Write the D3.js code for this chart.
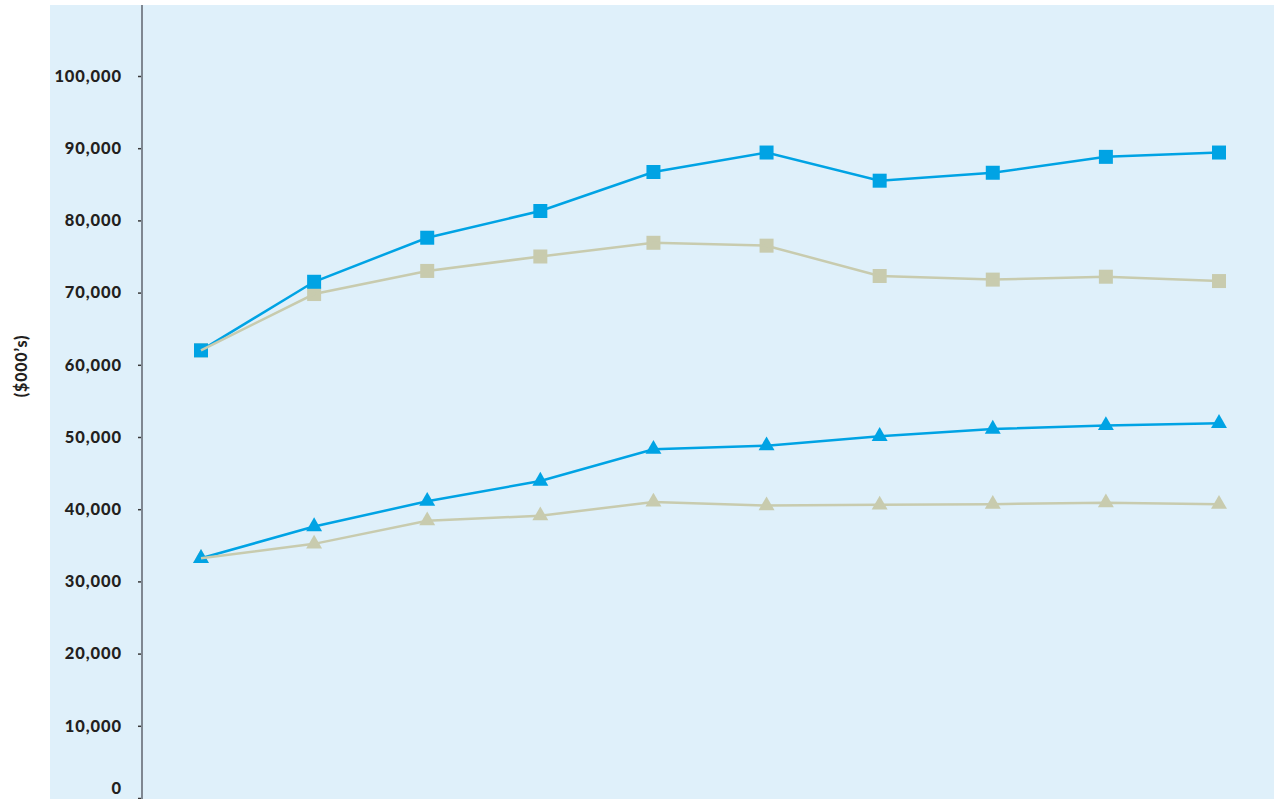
<!DOCTYPE html>
<html>
<head>
<meta charset="utf-8">
<script src="https://cdn.jsdelivr.net/npm/d3@7"></script>
<style>
  body { margin: 0; background: #fff; }
  text { font-family: Lato, "DejaVu Sans", sans-serif; font-weight: 900; fill: #231f20; }
</style>
</head>
<body>
<div id="chart"></div>
<script>
// Data ($000's)
const periods = ["1", "2", "3", "4", "5", "6", "7", "8", "9", "10"];
const blueSquares = [62000, 71500, 77600, 81300, 86700, 89400, 85500, 86600, 88800, 89400];
const beigeSquares = [62000, 69800, 73000, 75000, 76900, 76500, 72300, 71800, 72200, 71600];
const blueTriangles = [33200, 37600, 41100, 43900, 48300, 48800, 50100, 51100, 51600, 51900];
const beigeTriangles = [33200, 35200, 38400, 39100, 41000, 40500, 40600, 40700, 40900, 40700];
const yTicks = [0, 10000, 20000, 30000, 40000, 50000, 60000, 70000, 80000, 90000, 100000];

const width = 1274, height = 799;
const blue = "#00a3e4", beige = "#c8cbae";

const svg = d3.select("#chart").append("svg")
  .attr("width", width)
  .attr("height", height);

// background panel
svg.append("rect")
  .attr("x", 50).attr("y", 5)
  .attr("width", width - 50).attr("height", height - 5)
  .attr("fill", "#dff0fa");

const x = d3.scalePoint().domain(periods).range([201, 1219]);
const y = d3.scaleLinear().domain([0, 100000]).range([798, 76]);

// y axis
const yAxis = svg.append("g")
  .attr("transform", "translate(142,0)")
  .call(d3.axisLeft(y).tickValues(yTicks).tickSize(4).tickPadding(16)
    .tickFormat(d3.format(",")));
yAxis.select(".domain").remove();
yAxis.selectAll(".tick line").attr("stroke", "#3a3a3a").attr("stroke-width", 1.5);
yAxis.selectAll(".tick text")
  .style("font-size", "16.5px")
  .style("letter-spacing", "0.9px")
  .attr("fill", "#231f20");
// the 0 label sits at the bottom edge, lift it so it stays inside
yAxis.selectAll(".tick text").filter(d => d === 0).attr("y", -10);

svg.append("line")
  .attr("x1", 142).attr("x2", 142)
  .attr("y1", 5).attr("y2", height)
  .attr("stroke", "#7f8791").attr("stroke-width", 2);

// axis title
svg.append("text")
  .attr("transform", "translate(27,366) rotate(-90)")
  .attr("text-anchor", "middle")
  .style("font-size", "16px")
  .style("letter-spacing", "0.8px")
  .text("($000’s)");

const line = d3.line()
  .x((d, i) => x(periods[i]))
  .y(d => y(d));

function drawLine(values, color) {
  svg.append("path")
    .datum(values)
    .attr("fill", "none")
    .attr("stroke", color)
    .attr("stroke-width", 2.5)
    .attr("d", line);
}

function drawMarkers(values, color, type, size) {
  const sym = d3.symbol().type(type).size(size);
  svg.append("g").selectAll("path")
    .data(values)
    .enter().append("path")
    .attr("transform", (d, i) => "translate(" + x(periods[i]) + "," + y(d) + ")")
    .attr("d", sym)
    .attr("fill", color);
}

// draw order: beige markers, blue series, beige lines on top
drawMarkers(beigeSquares, beige, d3.symbolSquare, 196);
drawMarkers(beigeTriangles, beige, d3.symbolTriangle, 110);
drawLine(blueSquares, blue);
drawLine(blueTriangles, blue);
drawMarkers(blueSquares, blue, d3.symbolSquare, 196);
drawMarkers(blueTriangles, blue, d3.symbolTriangle, 110);
drawLine(beigeSquares, beige);
drawLine(beigeTriangles, beige);
</script>
</body>
</html>
